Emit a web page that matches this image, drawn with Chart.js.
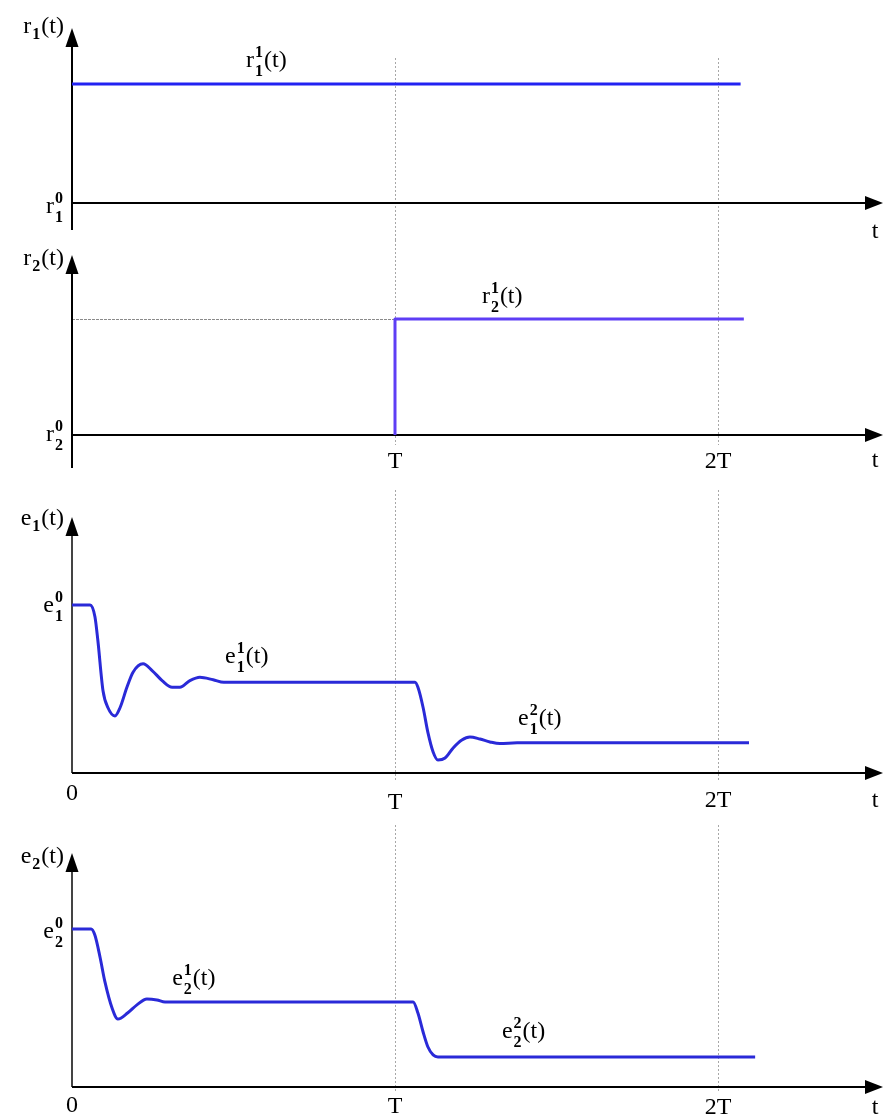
<!DOCTYPE html>
<html>
<head>
<meta charset="UTF-8">
<title>r(t), e(t)</title>
<style>
body { margin: 0; background: #fff; }
.panel { position: absolute; left: 0; }
</style>
<script src="https://cdn.jsdelivr.net/npm/chart.js@4.4.1/dist/chart.umd.min.js"></script>
<script>
// time axis in units of T
var tMax = 2.5;
var tickT = [0, 1, 2];
var tickNames = ['0', 'T', '2T'];

// reference signals
var r1T = [0, 2.07];
var r1V = [1, 1];
var r2T = [1, 1, 2.08];
var r2V = [0, 1, 1];

// outputs (1 = initial level e^0, 0 = time axis)
var e1T = [0, 0.056, 0.071, 0.080, 0.096, 0.111, 0.133, 0.149, 0.170, 0.189, 0.220, 0.248, 0.279, 0.310,
           0.334, 0.365, 0.396, 0.437, 0.470, 0.520, 1.062, 1.071, 1.087, 1.102, 1.118, 1.133, 1.155,
           1.180, 1.207, 1.232, 1.263, 1.294, 1.325, 1.378, 2.096];
var e1V = [1.00, 1.00, 0.93, 0.79, 0.49, 0.39, 0.34, 0.39, 0.51, 0.60, 0.65, 0.61, 0.55, 0.51,
           0.51, 0.55, 0.57, 0.555, 0.54, 0.54, 0.54, 0.51, 0.39, 0.24, 0.125, 0.077, 0.089,
           0.149, 0.196, 0.214, 0.202, 0.185, 0.175, 0.18, 0.18];
var e2T = [0, 0.059, 0.071, 0.087, 0.102, 0.124, 0.142, 0.173, 0.201, 0.232, 0.263, 0.288,
           1.056, 1.071, 1.087, 1.102, 1.118, 1.133, 1.180, 2.115];
var e2V = [1.00, 1.00, 0.96, 0.82, 0.665, 0.50, 0.43, 0.47, 0.52, 0.557, 0.551, 0.538,
           0.538, 0.468, 0.348, 0.253, 0.203, 0.19, 0.19, 0.19];

var SERIF = '"Liberation Serif", "Times New Roman", serif';

function points(ts, vs) {
	return ts.map(function (t, i) { return { x: t, y: vs[i] }; });
}

// draws things like r, e with sub/superscript and an optional (t)
function drawSymbol(ctx, lab, x, y, alignRight) {
	var big = '24px ' + SERIF, small = 'bold 16px ' + SERIF;
	ctx.font = big;
	var wb = ctx.measureText(lab.base).width;
	var wt = lab.tail ? ctx.measureText(lab.tail).width : 0;
	ctx.font = small;
	var ws = Math.max(lab.sup ? ctx.measureText(lab.sup).width : 0, lab.sub ? ctx.measureText(lab.sub).width : 0);
	var w = wb + 1 + ws + 1 + wt;
	if (alignRight) x -= w;
	ctx.fillStyle = '#000';
	ctx.textAlign = 'left';
	ctx.textBaseline = 'alphabetic';
	ctx.font = big;
	ctx.fillText(lab.base, x, y);
	ctx.font = small;
	if (lab.sup) ctx.fillText(lab.sup, x + wb + 1, y - 10);
	if (lab.sub) ctx.fillText(lab.sub, x + wb + 1, y + (lab.sup ? 9 : 6));
	if (lab.tail) {
		ctx.font = big;
		ctx.fillText(lab.tail, x + wb + ws + 2, y);
	}
}

var sketchAxes = {
	id: 'sketchAxes',
	beforeDatasetsDraw: function (chart) {
		var o = chart.options.plugins.sketchAxes;
		var ctx = chart.ctx, xs = chart.scales.x, ys = chart.scales.y, a = chart.chartArea;
		ctx.save();
		ctx.strokeStyle = 'rgba(80,80,80,0.5)';
		ctx.lineWidth = 1;
		ctx.setLineDash([2, 2]);
		o.grid.forEach(function (g) {
			var x = Math.round(xs.getPixelForValue(g.t)) + 0.5;
			ctx.beginPath();
			ctx.moveTo(x, g.from);
			ctx.lineTo(x, g.to);
			ctx.stroke();
		});
		if (o.level) {
			var ly = Math.round(ys.getPixelForValue(o.level.v)) + 0.5;
			ctx.strokeStyle = 'rgba(60,60,60,0.6)';
			ctx.setLineDash([3, 1]);
			ctx.beginPath();
			ctx.moveTo(xs.getPixelForValue(0), ly);
			ctx.lineTo(xs.getPixelForValue(o.level.t), ly);
			ctx.stroke();
		}
		ctx.setLineDash([]);
		var y0 = ys.getPixelForValue(0);
		ctx.lineWidth = 2;
		ctx.strokeStyle = o.yColor;
		ctx.beginPath();
		ctx.moveTo(a.left, a.top + 15);
		ctx.lineTo(a.left, a.bottom);
		ctx.stroke();
		ctx.strokeStyle = '#000';
		ctx.beginPath();
		ctx.moveTo(a.left, y0);
		ctx.lineTo(chart.width - 14, y0);
		ctx.stroke();
		ctx.restore();
	},
	afterDraw: function (chart) {
		var o = chart.options.plugins.sketchAxes;
		var ctx = chart.ctx, xs = chart.scales.x, ys = chart.scales.y, a = chart.chartArea;
		var y0 = ys.getPixelForValue(0);
		ctx.save();
		ctx.fillStyle = '#000';
		// arrow heads
		ctx.beginPath();
		ctx.moveTo(a.left, a.top);
		ctx.lineTo(a.left - 6.5, a.top + 19);
		ctx.lineTo(a.left + 6.5, a.top + 19);
		ctx.closePath();
		ctx.fill();
		ctx.beginPath();
		ctx.moveTo(chart.width - 1, y0);
		ctx.lineTo(chart.width - 19, y0 - 7);
		ctx.lineTo(chart.width - 19, y0 + 7);
		ctx.closePath();
		ctx.fill();
		// tick names under the time axis
		ctx.font = '24px ' + SERIF;
		ctx.textAlign = 'center';
		ctx.textBaseline = 'alphabetic';
		o.ticks.forEach(function (k, i) {
			ctx.fillText(tickNames[k], xs.getPixelForValue(tickT[k]), y0 + o.tickDy[i]);
		});
		ctx.fillText('t', 875, y0 + o.tDy);
		// axis name and initial level, left of the vertical axis
		drawSymbol(ctx, o.axisName, a.left - 8, o.axisName.y, true);
		drawSymbol(ctx, o.levelName, a.left - 8, o.levelName.y, true);
		// curve names, placed above the curve
		o.curveNames.forEach(function (c) {
			drawSymbol(ctx, c, xs.getPixelForValue(c.t), ys.getPixelForValue(c.v) - c.up, false);
		});
		ctx.restore();
	}
};

// g: canvas height, x-axis row, row of value 1, arrow tip row, lowest row of the vertical axis
function makeChart(id, g, datasets, deco) {
	var per = g.axisY - g.unitY;
	var cv = document.getElementById(id);
	return new Chart(cv.getContext('2d'), {
		type: 'line',
		data: { datasets: datasets },
		options: {
			responsive: false,
			animation: false,
			events: [],
			layout: { padding: { left: 72, right: 884 - (72 + 323 * tMax), top: g.topY, bottom: g.height - g.bottomY } },
			scales: {
				x: { type: 'linear', min: 0, max: tMax, display: false },
				y: { min: -(g.bottomY - g.axisY) / per, max: (g.axisY - g.topY) / per, display: false }
			},
			plugins: { legend: { display: false }, tooltip: { enabled: false }, sketchAxes: deco }
		},
		plugins: [sketchAxes]
	});
}

function lineSet(ts, vs, color, smooth) {
	return {
		data: points(ts, vs),
		borderColor: color,
		borderWidth: 3,
		pointRadius: 0,
		fill: false,
		tension: smooth ? 0.4 : 0,
		cubicInterpolationMode: smooth ? 'monotone' : 'default',
		borderJoinStyle: 'round'
	};
}

window.onload = function () {
	makeChart('c1', { height: 240, axisY: 203, unitY: 84, topY: 28, bottomY: 230 },
		[lineSet(r1T, r1V, '#2222f2', false)],
		{
			yColor: '#000',
			grid: [{ t: 1, from: 58, to: 240 }, { t: 2, from: 58, to: 240 }],
			ticks: [], tickDy: [], tDy: 35,
			axisName: { base: 'r', sub: '1', tail: '(t)', y: 33 },
			levelName: { base: 'r', sup: '0', sub: '1', y: 213 },
			curveNames: [{ base: 'r', sup: '1', sub: '1', tail: '(t)', t: 0.539, v: 1, up: 17 }]
		});

	makeChart('c2', { height: 240, axisY: 195, unitY: 79, topY: 15, bottomY: 228 },
		[lineSet(r2T, r2V, '#5e3ef5', false)],
		{
			yColor: '#000',
			grid: [{ t: 1, from: 0, to: 205 }, { t: 2, from: 0, to: 205 }],
			level: { v: 1, t: 1 },
			ticks: [1, 2], tickDy: [33, 33], tDy: 32,
			axisName: { base: 'r', sub: '2', tail: '(t)', y: 25 },
			levelName: { base: 'r', sup: '0', sub: '2', y: 201 },
			curveNames: [{ base: 'r', sup: '1', sub: '2', tail: '(t)', t: 1.269, v: 1, up: 16 }]
		});

	makeChart('c3', { height: 340, axisY: 293, unitY: 125, topY: 37, bottomY: 293 },
		[lineSet(e1T, e1V, '#2a2ad8', true)],
		{
			yColor: '#444',
			grid: [{ t: 1, from: 10, to: 300 }, { t: 2, from: 10, to: 300 }],
			ticks: [0, 1, 2], tickDy: [27, 36, 34], tDy: 34,
			axisName: { base: 'e', sub: '1', tail: '(t)', y: 45 },
			levelName: { base: 'e', sup: '0', sub: '1', y: 132 },
			curveNames: [
				{ base: 'e', sup: '1', sub: '1', tail: '(t)', t: 0.474, v: 0.54, up: 19 },
				{ base: 'e', sup: '2', sub: '1', tail: '(t)', t: 1.381, v: 0.18, up: 18 }
			]
		});

	makeChart('c4', { height: 296, axisY: 267, unitY: 109, topY: 33, bottomY: 267 },
		[lineSet(e2T, e2V, '#2a2ad8', true)],
		{
			yColor: '#444',
			grid: [{ t: 1, from: 5, to: 272 }, { t: 2, from: 5, to: 272 }],
			ticks: [0, 1, 2], tickDy: [25, 26, 27], tDy: 27,
			axisName: { base: 'e', sub: '2', tail: '(t)', y: 43 },
			levelName: { base: 'e', sup: '0', sub: '2', y: 118 },
			curveNames: [
				{ base: 'e', sup: '1', sub: '2', tail: '(t)', t: 0.310, v: 0.538, up: 17 },
				{ base: 'e', sup: '2', sub: '2', tail: '(t)', t: 1.331, v: 0.19, up: 19 }
			]
		});
};
</script>
</head>
<body>
<canvas class="panel" id="c1" width="884" height="240" style="top:0"></canvas>
<canvas class="panel" id="c2" width="884" height="240" style="top:240px"></canvas>
<canvas class="panel" id="c3" width="884" height="340" style="top:480px"></canvas>
<canvas class="panel" id="c4" width="884" height="296" style="top:820px"></canvas>
</body>
</html>
